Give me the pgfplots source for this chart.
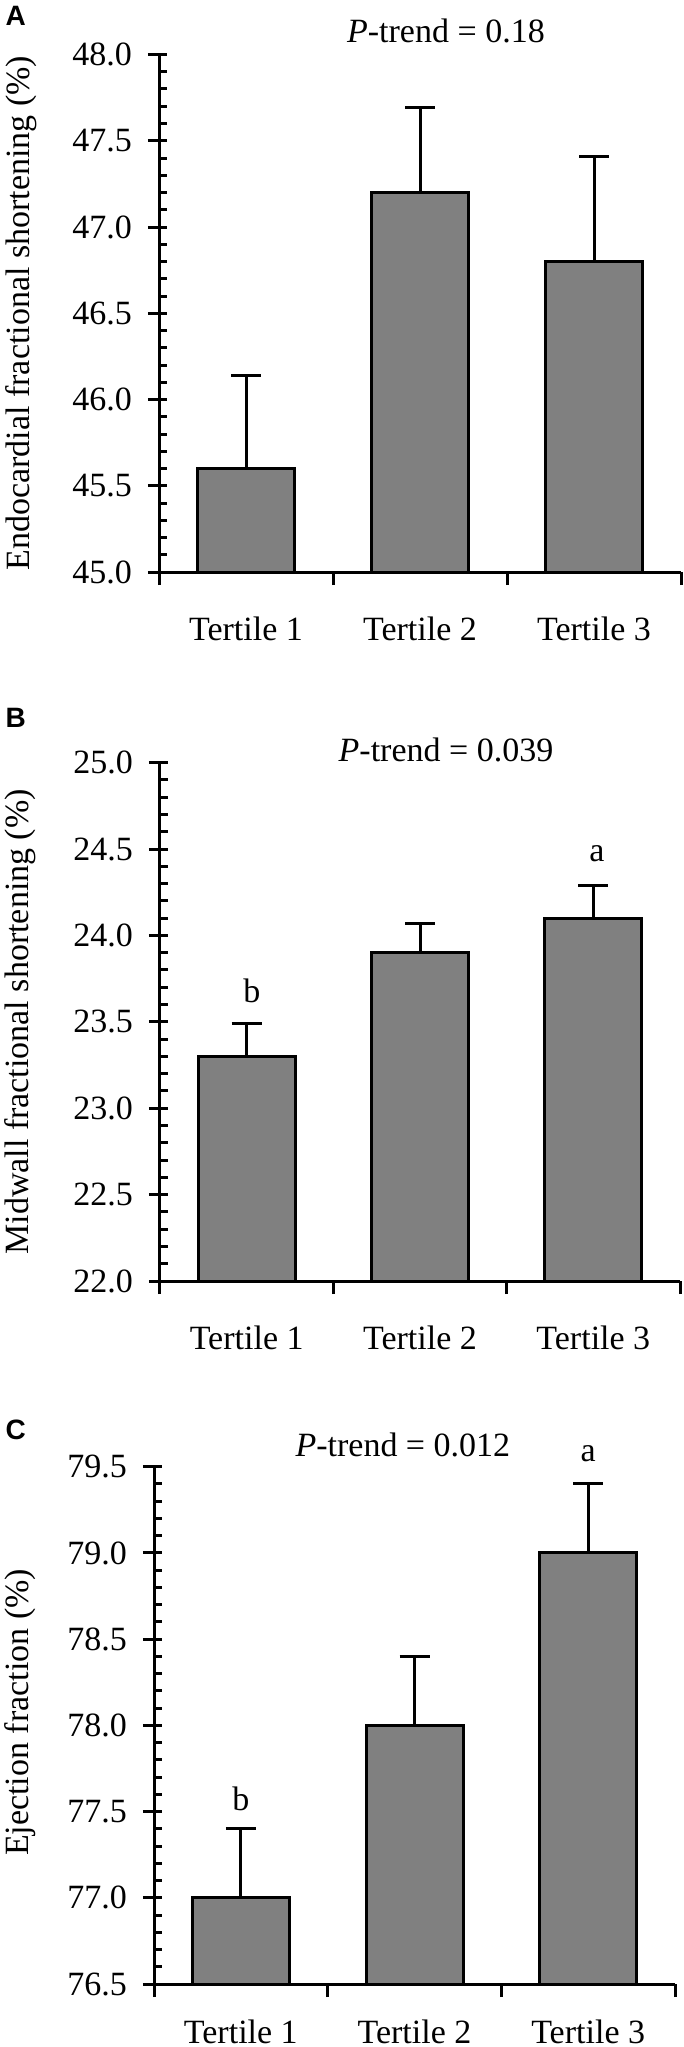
\documentclass[border=0pt]{standalone}
\usepackage{pgfplots}
\pgfplotsset{compat=1.18}
\usepackage{fontspec}
\setmainfont{Liberation Serif}
\newfontfamily\panelfont{Liberation Sans}
\definecolor{barfill}{RGB}{128,128,128}
\begin{document}
\begin{tikzpicture}
\path[use as bounding box] (0,0) rectangle (683pt,-2047pt);
\pgfplotsset{
  panel/.style={
    scale only axis,
    clip mode=individual,
    axis x line*=bottom, axis y line*=left,
    axis line style={line width=3pt, black, -},
    xmin=0.5, xmax=3.5,
    xtick={1,2,3}, xticklabels={Tertile 1, Tertile 2, Tertile 3},
    major x tick style={draw=none},
    extra x ticks={0.5,1.5,2.5,3.5}, extra x tick labels={},
    extra x tick style={tick align=outside, major tick length=13pt, major x tick style={draw=black, line width=3pt}},
    minor y tick num=4,
    y tick style={line width=3pt, black},
    tick align=inside, major tick length=8pt, minor tick length=8pt,
    tick label style={font=\fontsize{34}{40}\selectfont},
    yticklabel style={anchor=east, inner sep=0pt, xshift=-27pt},
    label style={font=\fontsize{34}{40}\selectfont},
    ylabel style={anchor=center, rotate=0},
  },
  bars/.style={ybar, bar width=97pt, fill=barfill, draw=black, line width=3pt,
    error bars/.cd, y dir=plus, y explicit,
    error bar style={line width=3pt, black},
    error mark options={rotate=90, mark size=15pt, line width=3pt, black}},
}
% Panel A
\begin{axis}[panel, at={(159pt,-54.5pt)}, anchor=north west, width=522pt, height=517.5pt,
  ymin=45, ymax=48,
  ytick={45,45.5,46,46.5,47,47.5,48},
  yticklabels={45.0,45.5,46.0,46.5,47.0,47.5,48.0},
  extra y ticks={45,45.5,46,46.5,47,47.5,48}, extra y tick labels={},
  extra y tick style={tick align=outside, major tick length=11pt},
  xticklabel style={anchor=base, yshift=-68pt},
  ylabel={Endocardial fractional shortening (\%)},
  ylabel style={at={(axis description cs:-0.2644,0.5)}}]
\addplot[bars] table[x=x, y=y, y error=e] {
x y e
1 45.60 0.54
2 47.20 0.49
3 46.80 0.61
};
\node[anchor=base, font=\fontsize{34}{40}\selectfont] at (axis cs:2.149,48.07) {\textit{P}-trend = 0.18};
\end{axis}
% Panel B
\begin{axis}[panel, at={(160pt,-762.6pt)}, anchor=north west, width=520pt, height=518.4pt,
  ymin=22, ymax=25,
  ytick={22,22.5,23,23.5,24,24.5,25},
  yticklabels={22.0,22.5,23.0,23.5,24.0,24.5,25.0},
  extra y ticks={22,22.5,23,23.5,24,24.5,25}, extra y tick labels={},
  extra y tick style={tick align=outside, major tick length=11pt},
  xticklabel style={anchor=base, yshift=-68pt},
  ylabel={Midwall fractional shortening (\%)},
  ylabel style={at={(axis description cs:-0.269,0.5)}}]
\addplot[bars] table[x=x, y=y, y error=e] {
x y e
1 23.30 0.19
2 23.90 0.17
3 24.10 0.19
};
\node[anchor=base, font=\fontsize{34}{40}\selectfont] at (axis cs:2.15,25.008) {\textit{P}-trend = 0.039};
\node[anchor=base, font=\fontsize{34}{40}\selectfont] at (axis cs:1.03,23.614) {b};
\node[anchor=base, font=\fontsize{34}{40}\selectfont] at (axis cs:3.02,24.425) {a};
\end{axis}
% Panel C
\begin{axis}[panel, at={(154pt,-1466.7pt)}, anchor=north west, width=521pt, height=517.3pt,
  ymin=76.5, ymax=79.5,
  ytick={76.5,77,77.5,78,78.5,79,79.5},
  yticklabels={76.5,77.0,77.5,78.0,78.5,79.0,79.5},
  extra y ticks={76.5,77,77.5,78,78.5,79,79.5}, extra y tick labels={},
  extra y tick style={tick align=outside, major tick length=11pt},
  xticklabel style={anchor=base, yshift=-59pt},
  ylabel={Ejection fraction (\%)},
  ylabel style={at={(axis description cs:-0.257,0.525)}}]
\addplot[bars] table[x=x, y=y, y error=e] {
x y e
1 77.00 0.40
2 78.00 0.40
3 79.00 0.40
};
\node[anchor=base, font=\fontsize{34}{40}\selectfont] at (axis cs:1.933,79.559) {\textit{P}-trend = 0.012};
\node[anchor=base, font=\fontsize{34}{40}\selectfont] at (axis cs:1.0,77.505) {b};
\node[anchor=base, font=\fontsize{34}{40}\selectfont] at (axis cs:3.0,79.533) {a};
\end{axis}
\node[anchor=west, font=\panelfont\bfseries\fontsize{28}{34}\selectfont] at (2pt,-16pt) {A};
\node[anchor=west, font=\panelfont\bfseries\fontsize{28}{34}\selectfont] at (2pt,-718pt) {B};
\node[anchor=west, font=\panelfont\bfseries\fontsize{28}{34}\selectfont] at (2pt,-1430pt) {C};
\end{tikzpicture}
\end{document}
